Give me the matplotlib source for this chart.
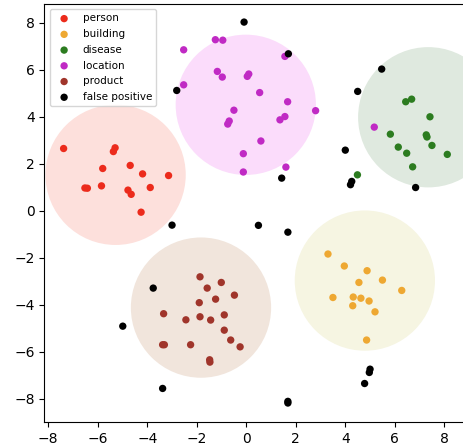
import numpy as np
import matplotlib
matplotlib.use("Agg")
import matplotlib.pyplot as plt

labels = ["person", "building", "disease", "location", "product", "false positive"]
colors = ["#ec2b1c", "#eea832", "#2c7c20", "#c02ac4", "#a0352b", "#000000"]
bg_colors = ["#fde0dc", "#f6f5e2", "#dfe9df", "#fbdcfb", "#f1e5dc"]

# cluster centres (person, building, disease, location, product)
centre_x = [-5.28, 4.79, 7.35, -0.02, -1.83]
centre_y = [1.53, -2.97, 3.98, 4.51, -4.12]

person_x = [-7.38, -6.52, -6.42, -5.85, -5.80, -5.37, -5.30, -4.69, -4.78, -4.65, -4.19, -3.88, -3.14, -4.25]
person_y = [2.65, 0.97, 0.96, 1.06, 1.80, 2.52, 2.68, 1.93, 0.88, 0.70, 1.57, 0.99, 1.50, -0.06]

building_x = [3.30, 3.96, 4.88, 4.55, 5.50, 6.28, 3.50, 4.32, 4.63, 4.96, 4.30, 5.20, 4.86]
building_y = [-1.84, -2.35, -2.55, -3.05, -2.95, -3.39, -3.69, -3.67, -3.72, -3.84, -4.04, -4.30, -5.50]

disease_x = [6.44, 6.68, 7.42, 5.82, 7.27, 7.30, 7.50, 6.14, 6.48, 8.12, 6.72, 4.49]
disease_y = [4.64, 4.75, 4.00, 3.26, 3.23, 3.14, 2.78, 2.71, 2.45, 2.40, 1.87, 1.53]

location_x = [-2.53, -1.25, -0.95, -1.17, -0.97, -2.53, -0.50, -0.69, -0.75, 1.56, 0.04, 0.10,
              0.54, 1.67, 2.80, 1.36, 1.56, 0.59, -0.12, -0.12, 1.60, 5.17]
location_y = [6.85, 7.28, 7.26, 5.93, 5.69, 5.36, 4.28, 3.82, 3.69, 6.57, 5.72, 5.82,
              5.03, 4.64, 4.26, 3.87, 4.01, 2.97, 2.43, 1.65, 1.86, 3.56]

product_x = [-1.87, -1.01, -1.58, -0.48, -1.24, -1.90, -3.34, -1.87, -1.44, -0.89, -2.44, -0.89,
             -0.63, -0.25, -3.38, -3.31, -2.25, -1.48, -1.47]
product_y = [-2.81, -3.05, -3.29, -3.59, -3.76, -3.91, -4.38, -4.51, -4.65, -4.43, -4.64, -5.08,
             -5.50, -5.79, -5.70, -5.70, -5.70, -6.34, -6.44]

fp_x = [-0.09, 1.70, 5.47, 4.50, 4.00, 4.26, 4.21, 6.84, 1.43, -2.81, -3.00, -3.76, -4.99,
        -3.38, 0.49, 1.68, 5.00, 4.97, 4.78, 1.68, 1.68]
fp_y = [8.03, 6.68, 6.03, 5.08, 2.58, 1.25, 1.11, 0.99, 1.39, 5.12, -0.61, -3.29, -4.91,
        -7.56, -0.62, -0.91, -6.74, -6.88, -7.35, -8.11, -8.18]

groups = [(person_x, person_y), (building_x, building_y), (disease_x, disease_y),
          (location_x, location_y), (product_x, product_y), (fp_x, fp_y)]

fig = plt.figure(figsize=(4.63, 4.48), dpi=100)
ax = fig.add_axes([0.0957, 0.0574, 0.911, 0.9337])

# big translucent discs behind each cluster
ax.scatter(centre_x, centre_y, s=10200, c=bg_colors, edgecolors="none", zorder=1)

for (gx, gy), lab, col in zip(groups, labels, colors):
    ax.scatter(gx, gy, s=28, c=col, edgecolors="none", label=lab, zorder=3)

ax.set_xlim(-8.16, 8.88)
ax.set_ylim(-9.0, 8.8)
ax.set_xticks(np.arange(-8, 9, 2))
ax.set_yticks(np.arange(-8, 9, 2))
ax.legend(loc="upper left", fontsize=7.5, markerscale=1.0, labelspacing=0.55)

fig.savefig("out.png", dpi=100)
